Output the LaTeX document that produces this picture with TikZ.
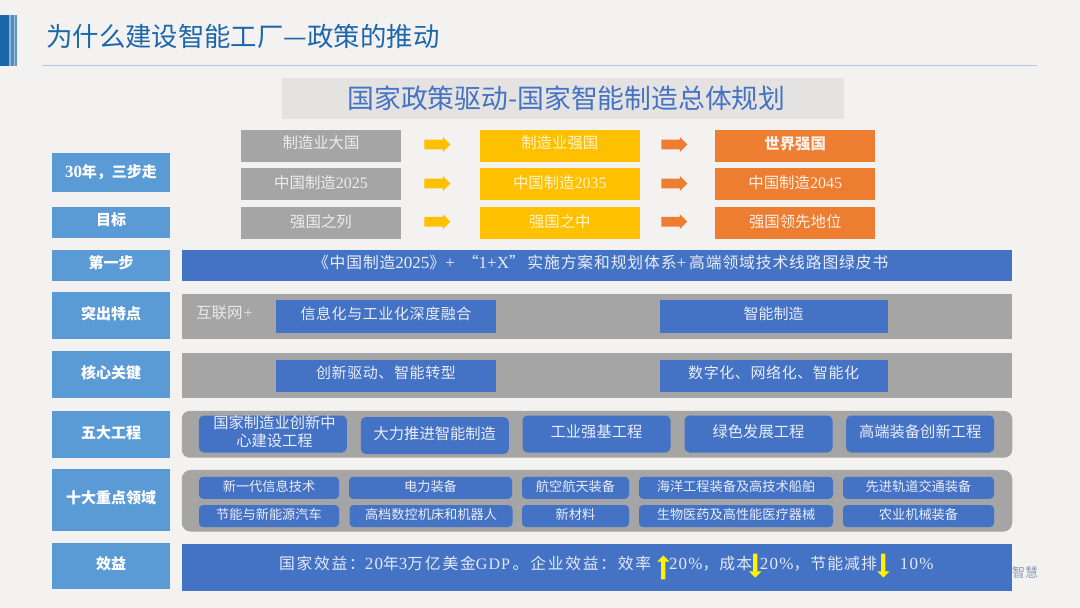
\documentclass[tikz,border=0pt]{standalone}
\usepackage{fontspec}
\setmainfont{Noto Sans CJK SC}
\newfontfamily\lat{Liberation Serif}
\newfontfamily\latw[LetterSpace=7]{Liberation Serif}
\newfontfamily\cjkw[LetterSpace=7]{Noto Sans CJK SC}
\newfontfamily\cjkww[LetterSpace=11]{Noto Sans CJK SC}
\newfontfamily\cjkn[LetterSpace=4]{Noto Sans CJK SC}
\newfontfamily\cjkm[LetterSpace=5.5]{Noto Sans CJK SC}
\usetikzlibrary{shapes.arrows}
\definecolor{bgc}{HTML}{F3F2F0}
\definecolor{lblue}{HTML}{5B9BD5}
\definecolor{mblue}{HTML}{4472C4}
\definecolor{gry}{HTML}{A5A5A5}
\definecolor{yel}{HTML}{FFC000}
\definecolor{org}{HTML}{ED7D31}
\definecolor{ttl}{HTML}{1C66AC}
\newcommand{\rz}[2]{\raisebox{\dimexpr #1pt*2\relax}{#2}}
\newcommand{\fs}[1]{\fontsize{#1}{#1}\selectfont}
\tikzset{x=1pt,y=-1pt,
 box/.style={anchor=center,inner sep=0,outer sep=0,text=white,align=center},
 lab/.style={box,fill=lblue,minimum width=118,font=\fs{15}\bfseries},
 stepg/.style={box,fill=gry,text=white!80!gry,minimum width=160,minimum height=32,font=\fs{15.4}},
 stepy/.style={stepg,fill=yel,text=white!80!yel},
 stepo/.style={stepg,fill=org,text=white!88!org},
 blu/.style={box,fill=mblue,text=white!88!mblue,font=\fs{15}},
 five/.style={blu,rounded corners=5,minimum width=148,minimum height=37,font=\fs{15.3}},
 ten/.style={blu,rounded corners=4,minimum height=22,font=\fs{13.2}},
 barg/.style={box,fill=gry,minimum width=830.5},
 arr/.style={single arrow,inner xsep=0,inner ysep=4.5,minimum height=26,minimum width=15,single arrow head extend=2.5,single arrow head indent=0,text width=0},
 updn/.style={single arrow,inner xsep=0,inner ysep=1.8,fill=yellow,minimum height=24,minimum width=12.5,single arrow head extend=4,text width=0}
}
\begin{document}
\begin{tikzpicture}
\useasboundingbox (0,0) rectangle (1080,608);
\fill[bgc] (0,0) rectangle (1080,608);
% header mark
\fill[ttl] (0,15) rectangle (9,66);
\fill[ttl!50!white] (9,15) rectangle (10.5,66);
\fill[ttl!75!white] (10.5,15) rectangle (13.5,66);
\fill[ttl!40!white] (13.5,15) rectangle (15,66);
\fill[ttl!70!white] (15,15) rectangle (17.3,66);
\node[anchor=west,inner sep=0,text=ttl,font=\fs{26.4}] (title) at (46,36) {为什么建设智能工厂—政策的推动};
\coordinate (ruleL) at (42,65.5); \coordinate (ruleR) at (1037,65.5);
\draw[color=mblue!35!bgc,line width=1.2] (ruleL) -- (ruleR);
\node[box,fill=black!6!bgc,minimum width=562,minimum height=41,text=mblue,font=\fs{26.8}] (sub) at (563,98.5) {\hspace*{7pt}国家政策驱动-国家智能制造总体规划};
% rows
\node[stepg] (a1) at (321,146) {\rz{3.5}{制造业大国}};
\node[stepg] (a2) at (321,184) {\rz{2}{中国制造{\lat\fs{16}2025}}};
\node[stepg] (a3) at (321,223) {\rz{2}{强国之列}};
\node[stepy] (b1) at (559.8,146) {\rz{3.5}{制造业强国}};
\node[stepy] (b2) at (559.8,184) {\rz{2}{中国制造{\lat\fs{16}2035}}};
\node[stepy] (b3) at (559.8,223) {\rz{2}{强国之中}};
\node[stepo] (c1) at (795.2,146) {\rz{3.5}{\bfseries 世界强国}};
\node[stepo] (c2) at (795.2,184) {\rz{2}{中国制造{\lat\fs{16}2045}}};
\node[stepo] (c3) at (795.2,223) {\rz{2}{强国领先地位}};
\foreach \y/\n in {144.5/1,183.5/2,221.7/3}{
 \node[arr,fill=yel] (ya\n) at (435,\y) {};
 \node[arr,fill=org] (oa\n) at (671.8,\y) {};
}
% left labels
\node[lab,minimum height=38.7] (l1) at (111,172.3) {{\lat\fs{17}\bfseries 30}年，三步走};
\node[lab,minimum height=31.3] (l2) at (111,222.3) {\rz{3}{目标}};
\node[lab,minimum height=31] (l3) at (111,265.5) {\rz{3.5}{第一步}};
\node[lab,minimum height=46.7] (l4) at (111,315.3) {\rz{2.5}{突出特点}};
\node[lab,minimum height=46.7] (l5) at (111,374.3) {\rz{2.5}{核心关键}};
\node[lab,minimum height=46.7] (l6) at (111,434.3) {\rz{2.5}{五大工程}};
\node[lab,minimum height=62] (l7) at (111,500) {\rz{3}{十大重点领域}};
\node[lab,minimum height=45.7] (l8) at (111,565.8) {\rz{3}{效益}};
% bars
\node[blu,minimum width=830.5,minimum height=31,font=\fs{15.8}\cjkm] (b31) at (597.2,265.5) {\rz{4}{\hspace*{7pt}《中国制造{\lat\fs{17}2025}》{\lat\fs{17}+}\hspace{8pt}“{\lat\fs{17}1+X}”\,实施方案和规划体系{\lat\fs{17}+}\hspace{3pt}高端领域技术线路图绿皮书}};
\node[barg,minimum height=45.3] (g1) at (597.2,316.7) {};
\node[barg,minimum height=45.3] (g2) at (597.2,375.7) {};
\node[box,anchor=west,text=white!75!gry,font=\fs{15.5}] (hlw) at (196,313) {互联网\hspace{1pt}{\lat\fs{16}+}};
\node[blu,minimum width=220,minimum height=32.7,font=\fs{15}\cjkn] (k1) at (386,316.3) {\rz{3}{信息化与工业化深度融合}};
\node[blu,minimum width=227.7,minimum height=32.7] (k2) at (773.7,316.3) {\rz{3}{智能制造}};
\node[blu,minimum width=220,minimum height=31.7,font=\fs{15}\cjkn] (k3) at (386,375.8) {\rz{3.5}{创新驱动、智能转型}};
\node[blu,minimum width=227.7,minimum height=31.7,font=\fs{15}\cjkn] (k4) at (773.7,375.8) {\rz{3.5}{数字化、网络化、智能化}};
% five
\node[barg,rounded corners=8,minimum height=46.7] (g3) at (597,434.3) {};
\node[five] (f1) at (272.9,434) {};
\node[box,text=white!88!mblue,font=\fontsize{15.3}{18.6}\selectfont] (f1t) at (274.5,431.7) {国家制造业创新中\\心建设工程};
\node[five] (f2) at (434.8,435.5) {\rz{2.5}{大力推进智能制造}};
\node[five] (f3) at (596.5,434) {\rz{3}{工业强基工程}};
\node[five] (f4) at (758.5,434) {\rz{3}{绿色发展工程}};
\node[five] (f5) at (920.2,434) {\rz{3}{高端装备创新工程}};
% ten
\node[barg,rounded corners=9,minimum height=61.7] (g4) at (597,500.8) {};
\node[ten,minimum width=140] (t1) at (269,487.8) {\rz{1.5}{新一代信息技术}};
\node[ten,minimum width=163] (t2) at (430.5,487.8) {\rz{1.5}{电力装备}};
\node[ten,minimum width=107] (t3) at (575.5,487.8) {\rz{1.5}{航空航天装备}};
\node[ten,minimum width=194] (t4) at (736,487.8) {\rz{1.5}{海洋工程装备及高技术船舶}};
\node[ten,minimum width=151] (t5) at (918.5,487.8) {\rz{1.5}{先进轨道交通装备}};
\node[ten,minimum width=140] (u1) at (269,516) {\rz{2}{节能与新能源汽车}};
\node[ten,minimum width=163] (u2) at (431,516) {\rz{2}{高档数控机床和机器人}};
\node[ten,minimum width=107] (u3) at (575.5,516) {\rz{2}{新材料}};
\node[ten,minimum width=194] (u4) at (736,516) {\rz{2}{生物医药及高性能医疗器械}};
\node[ten,minimum width=151] (u5) at (918.5,516) {\rz{2}{农业机械装备}};
% benefit
\node[box,text=black!40!mblue!50!bgc,anchor=west,font=\fs{13}] (wm) at (1012,573) {智慧};
\node[blu,minimum width=830.5,minimum height=46.7] (ben) at (597.2,567.7) {};
\node[box,anchor=west,text=white!85!mblue,font=\fs{15.8}\cjkw] (bt) at (279,564) {\makebox[390pt][l]{\cjkww 国家效益：{\latw\fs{17}20}年{\latw\fs{17}3}万亿美金{\latw\fs{16}GDP}\,。企业效益：效率}\makebox[91pt][l]{{\latw\fs{17}20\%}，成本}\makebox[140pt][l]{{\latw\fs{17}20\%}，节能减排}{\latw\fs{17}10\%}};
\node[updn,rotate=90] (up) at (663.3,568.5) {};
\node[updn,rotate=-90] (d1) at (755.2,564.5) {};
\node[updn,rotate=-90] (d2) at (883.3,564.5) {};
\end{tikzpicture}
\end{document}
